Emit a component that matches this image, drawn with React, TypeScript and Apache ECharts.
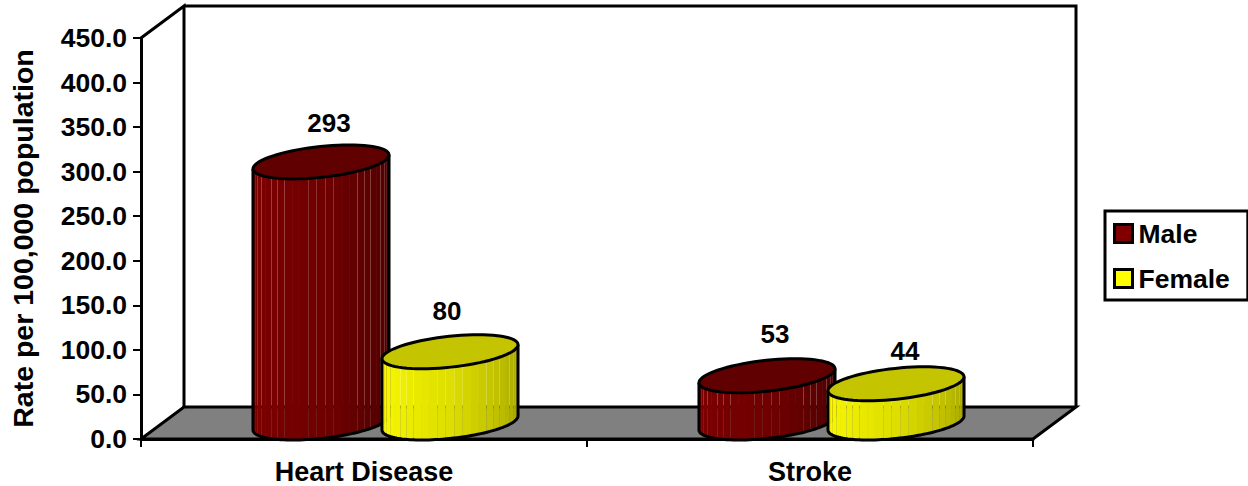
import React, { useEffect, useRef } from "react";
import * as echarts from "echarts";

const categories = ["Heart Disease", "Stroke"];
const maleValues = [293, 53];
const femaleValues = [80, 44];
const yMax = 450;
const yStep = 50;
const seriesNames = ["Male", "Female"];

// label nudges relative to the top of each cylinder [dx, dy]
const maleLabelNudge = [[8, -39], [8, -42]];
const femaleLabelNudge = [[-3, -41], [9, -33]];

const FONT = "Liberation Sans, Arial, sans-serif";
const GRID = { left: 139, top: 38, width: 894, height: 401 };
const DEPTH = { x: 43, y: -32 };
const SKEW = { a: 62, b: 28, c: 17 };
const HALF_SLOT = 64.5;
const FACETS = 25;
const INK = 3;

const maleShade = { left: [128, 0, 0], mid: [112, 0, 0], right: [72, 0, 0], top: "#600000" };
const femaleShade = { left: [255, 255, 0], mid: [222, 222, 0], right: [160, 160, 0], top: "#c4c400" };

function mix(p: number, shade: any) {
  const [from, to, k] = p < 0.5 ? [shade.left, shade.mid, p * 2] : [shade.mid, shade.right, (p - 0.5) * 2];
  const c = from.map((v: number, i: number) => Math.round(v + (to[i] - v) * k));
  return `rgb(${c[0]},${c[1]},${c[2]})`;
}

function wallsItem(_: any, api: any) {
  const band = api.size([1, 0])[0];
  const [c0, fb] = api.coord([0, 0]);
  const [, ft] = api.coord([0, yMax]);
  const fl = c0 - band / 2;
  const fr = fl + band * categories.length;
  const ink = { stroke: "#000", lineWidth: INK, fill: "none" };
  return {
    type: "group",
    silent: true,
    children: [
      {
        type: "polygon",
        shape: { points: [[fl, fb], [fr, fb], [fr + DEPTH.x, fb + DEPTH.y], [fl + DEPTH.x, fb + DEPTH.y]] },
        style: { fill: "#808080", stroke: "#000", lineWidth: INK },
      },
      {
        type: "polyline",
        shape: {
          points: [
            [fl, ft],
            [fl + DEPTH.x, ft + DEPTH.y],
            [fl + DEPTH.x, fb + DEPTH.y],
          ],
        },
        style: ink,
      },
      {
        type: "polyline",
        shape: {
          points: [
            [fl + DEPTH.x, ft + DEPTH.y],
            [fr + DEPTH.x, ft + DEPTH.y],
            [fr + DEPTH.x, fb + DEPTH.y],
          ],
        },
        style: ink,
      },
    ],
  };
}

function cylinderItem(side: number, shade: any, values: number[], nudges: number[][]) {
  return (params: any, api: any) => {
    const i = params.dataIndex;
    const [cat, val] = [api.value(0), api.value(1)];
    const front = api.coord([cat, 0]);
    const top = api.coord([cat, val]);
    const cx = front[0] + DEPTH.x / 2 + side * HALF_SLOT;
    const baseY = front[1] + DEPTH.y / 2;
    const topY = top[1] + DEPTH.y / 2;
    const pt = (t: number, y: number) => [
      cx + SKEW.a * Math.cos(t) + SKEW.b * Math.sin(t),
      y - SKEW.c * Math.sin(t),
    ];
    const t0 = Math.atan2(SKEW.b, SKEW.a);
    const children: any[] = [];
    const span = Math.PI;
    const ring: number[][] = [];
    for (let k = 0; k < FACETS; k++) {
      const t1 = t0 + Math.PI + (span * k) / FACETS;
      const t2 = t0 + Math.PI + (span * (k + 1)) / FACETS;
      const p = (k + 0.5) / FACETS;
      children.push({
        type: "polygon",
        shape: { points: [pt(t1, topY), pt(t2, topY), pt(t2, baseY), pt(t1, baseY)] },
        style: { fill: mix(p, shade) },
      });
    }
    const outline: number[][] = [pt(t0 + Math.PI, topY)];
    for (let k = 0; k <= 60; k++) outline.push(pt(t0 + Math.PI + (span * k) / 60, baseY));
    outline.push(pt(t0, topY));
    children.push({
      type: "polyline",
      shape: { points: outline },
      style: { stroke: "#000", lineWidth: INK, fill: "none" },
    });
    for (let k = 0; k < 72; k++) ring.push(pt((k / 72) * Math.PI * 2, topY));
    children.push({
      type: "polygon",
      shape: { points: ring },
      style: { fill: shade.top, stroke: "#000", lineWidth: INK },
    });
    children.push({
      type: "text",
      style: {
        text: String(values[i]),
        x: cx + nudges[i][0],
        y: topY + nudges[i][1],
        align: "center",
        verticalAlign: "middle",
        fontFamily: FONT,
        fontWeight: "bold",
        fontSize: 26,
        fill: "#000",
      },
    });
    return { type: "group", children };
  };
}

export default function App() {
  const ref = useRef<HTMLDivElement>(null);
  useEffect(() => {
    const chart = echarts.init(ref.current!, null, { renderer: "svg" });
    const textStyle = { fontFamily: FONT, fontWeight: "bold" as const, fontSize: 26.5, color: "#000" };
    chart.setOption({
      animation: false,
      backgroundColor: "#fff",
      grid: { ...GRID, containLabel: false },
      legend: {
        orient: "vertical",
        left: 1105,
        top: 211,
        width: 142,
        height: 84,
        padding: [9, 18, 8, 8],
        itemGap: 18,
        itemWidth: 18,
        itemHeight: 18,
        icon: "rect",
        borderColor: "#000",
        borderWidth: INK,
        backgroundColor: "#fff",
        data: seriesNames,
        textStyle: { ...textStyle, padding: [0, 0, 0, 1] },
        itemStyle: { borderColor: "#000", borderWidth: INK },
      },
      xAxis: {
        type: "category",
        data: categories,
        boundaryGap: true,
        axisLine: { lineStyle: { color: "#000", width: INK } },
        axisTick: { show: true, length: 8, lineStyle: { color: "#000", width: 2 } },
        axisLabel: { ...textStyle, fontSize: 27, margin: 19 },
      },
      yAxis: {
        type: "value",
        min: 0,
        max: yMax,
        interval: yStep,
        name: "Rate per 100,000 population",
        nameLocation: "middle",
        nameGap: 104,
        nameTextStyle: { ...textStyle, fontSize: 28.5 },
        axisLine: { show: true, lineStyle: { color: "#000", width: INK } },
        axisTick: { show: true, length: 8, lineStyle: { color: "#000", width: 2 } },
        axisLabel: { ...textStyle, margin: 14, formatter: (v: number) => v.toFixed(1) },
        splitLine: { show: false },
      },
      series: [
        {
          name: "walls",
          type: "custom",
          z: 1,
          silent: true,
          renderItem: wallsItem,
          data: [[0, 0]],
          encode: { x: 0, y: 1 },
        },
        {
          name: seriesNames[0],
          type: "custom",
          z: 2,
          itemStyle: { color: "#800000" },
          renderItem: cylinderItem(-1, maleShade, maleValues, maleLabelNudge),
          data: maleValues.map((v, i) => [i, v]),
          encode: { x: 0, y: 1 },
        },
        {
          name: seriesNames[1],
          type: "custom",
          z: 3,
          itemStyle: { color: "#ffff00" },
          renderItem: cylinderItem(1, femaleShade, femaleValues, femaleLabelNudge),
          data: femaleValues.map((v, i) => [i, v]),
          encode: { x: 0, y: 1 },
        },
      ],
    });
    return () => chart.dispose();
  }, []);
  return <div ref={ref} style={{ position: "fixed", left: 0, top: 0, width: 1248, height: 486 }} />;
}
